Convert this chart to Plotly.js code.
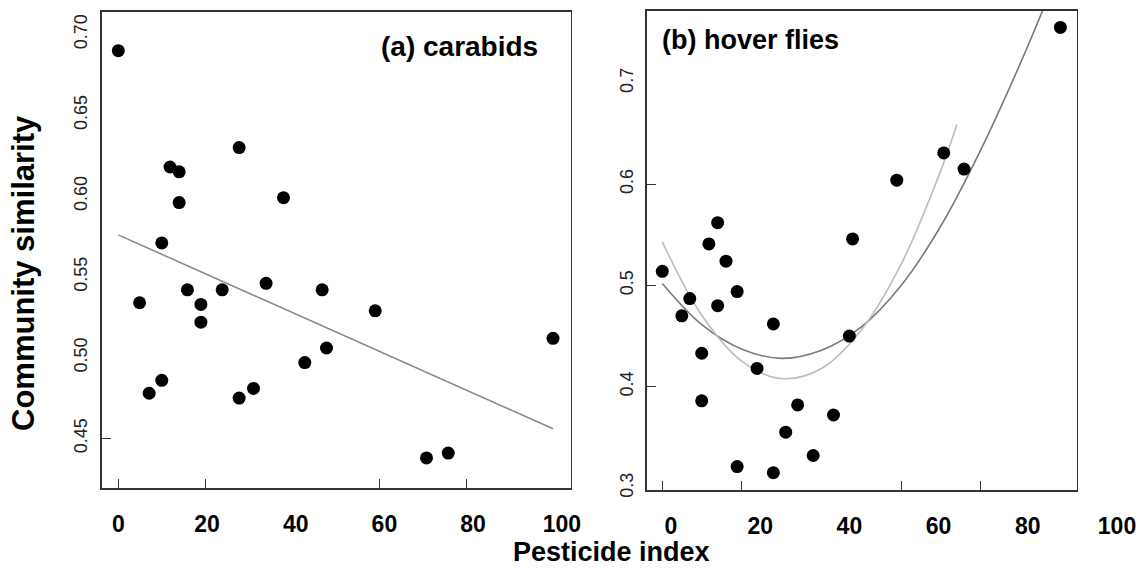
<!DOCTYPE html>
<html>
<head>
<meta charset="utf-8">
<script src="https://cdn.plot.ly/plotly-3.0.1.min.js"></script>
<style>html,body{margin:0;padding:0;background:#fff;}#chart{width:1146px;height:569px;}</style>
</head>
<body>
<div id="chart"></div>
<script>
// ---- data ----
var carabidX = [0, 27.8, 11.9, 14.0, 14.0, 38.0, 10.0, 34.0, 4.9, 15.9, 19.0, 19.0, 23.9, 46.9, 59.1, 100, 47.9, 42.9, 10.0, 7.1, 27.8, 31.1, 70.9, 75.9];
var carabidY = [0.690, 0.630, 0.618, 0.615, 0.596, 0.599, 0.571, 0.546, 0.534, 0.542, 0.533, 0.522, 0.542, 0.542, 0.529, 0.512, 0.506, 0.497, 0.486, 0.478, 0.475, 0.481, 0.438, 0.441];
var carabidFitX = [0, 100];
var carabidFitY = [0.576, 0.456];

var hoverX = [100, 70.7, 75.8, 58.9, 13.9, 11.7, 47.8, 16.0, 0, 18.8, 6.9, 13.9, 4.9, 27.9, 47.0, 9.9, 23.8, 9.9, 34.0, 43.0, 31.0, 37.9, 18.8, 27.9];
var hoverY = [0.755, 0.631, 0.615, 0.604, 0.562, 0.541, 0.546, 0.524, 0.514, 0.494, 0.487, 0.480, 0.470, 0.462, 0.450, 0.433, 0.418, 0.386, 0.382, 0.372, 0.355, 0.332, 0.321, 0.315];
var hoverFitDarkX = [0, 10, 20, 30, 40, 50, 60, 70, 80, 90, 96];
var hoverFitDarkY = [0.502, 0.461, 0.437, 0.428, 0.436, 0.459, 0.500, 0.559, 0.634, 0.720, 0.776];
var hoverFitLightX = [0, 10, 20, 30, 40, 50, 60, 70, 74];
var hoverFitLightY = [0.543, 0.470, 0.425, 0.408, 0.418, 0.456, 0.521, 0.614, 0.659];

var xTickVals = [0, 20, 40, 60, 80, 100];
var xTickText = ['0', '20', '40', '60', '80', '100'];
var xMarkVals = [0, 20, 60, 80];
var leftYTickVals = [0.45, 0.50, 0.55, 0.60, 0.65, 0.70];
var leftYTickText = ['0.45', '0.50', '0.55', '0.60', '0.65', '0.70'];
var leftYMarkVals = [0.45];
var rightYTickVals = [0.3, 0.4, 0.5, 0.6, 0.7];
var rightYTickText = ['0.3', '0.4', '0.5', '0.6', '0.7'];
var rightYMarkVals = [0.4, 0.5, 0.6];

var titleX = 'Pesticide index';
var titleY = 'Community similarity';
var labelA = '(a) carabids';
var labelB = '(b) hover flies';

// ---- styling ----
var FONT = 'Liberation Sans, Arial, Helvetica, sans-serif';
var W = 1146, H = 569;
function px(x){ return x / W; }
function py(y){ return 1 - y / H; }

var leftXR = [-3.82, 104.07], leftYR = [0.4192, 0.7141];
var rightXR = [-3.92, 104.1], rightYR = [0.2979, 0.7715];
var leftDomX = [px(101.7), px(570.7)], leftDomY = [py(488.3), py(11.7)];
var rightDomX = [px(646.7), px(1076.7)], rightDomY = [py(490), py(10.7)];

var mk = {color: '#000', size: 13};
var traces = [
  {x: carabidFitX, y: carabidFitY, xaxis: 'x', yaxis: 'y', mode: 'lines', line: {color: '#8a8a8a', width: 1.6}, hoverinfo: 'skip'},
  {x: carabidX, y: carabidY, xaxis: 'x', yaxis: 'y', mode: 'markers', marker: mk},
  {x: hoverFitDarkX, y: hoverFitDarkY, xaxis: 'x2', yaxis: 'y2', mode: 'lines', line: {color: '#7a7a7a', width: 1.6, shape: 'spline', smoothing: 1}, hoverinfo: 'skip'},
  {x: hoverFitLightX, y: hoverFitLightY, xaxis: 'x2', yaxis: 'y2', mode: 'lines', line: {color: '#bcbcbc', width: 1.6, shape: 'spline', smoothing: 1}, hoverinfo: 'skip'},
  {x: hoverX, y: hoverY, xaxis: 'x2', yaxis: 'y2', mode: 'markers', marker: mk},
  // empty traces that only register the label / tick helper axes
  {x: [], y: [], xaxis: 'x3', yaxis: 'y', mode: 'markers'},
  {x: [], y: [], xaxis: 'x4', yaxis: 'y2', mode: 'markers'},
  {x: [], y: [], xaxis: 'x', yaxis: 'y3', mode: 'markers'},
  {x: [], y: [], xaxis: 'x2', yaxis: 'y4', mode: 'markers'}
];

var boxAxis = {showline: true, mirror: true, linecolor: '#333', linewidth: 1.5, showgrid: false, zeroline: false};

var layout = {
  width: W, height: H,
  margin: {l: 0, r: 0, t: 0, b: 0},
  paper_bgcolor: '#fff', plot_bgcolor: 'rgba(0,0,0,0)',
  showlegend: false,
  font: {family: FONT, color: '#000'},
  xaxis: Object.assign({}, boxAxis, {domain: leftDomX, range: leftXR, anchor: 'y', tickmode: 'array', tickvals: xMarkVals, ticks: 'inside', ticklen: 9, tickcolor: '#333', showticklabels: false}),
  yaxis: Object.assign({}, boxAxis, {domain: leftDomY, range: leftYR, anchor: 'x', tickmode: 'array', tickvals: leftYTickVals, ticktext: leftYTickText, ticks: '', tickangle: -90, ticklabelstandoff: 6, tickfont: {family: FONT, size: 18, color: '#222'}}),
  yaxis3: {overlaying: 'y', anchor: 'x', range: leftYR, tickmode: 'array', tickvals: leftYMarkVals, ticks: 'inside', ticklen: 9, tickcolor: '#333', showticklabels: false, showgrid: false, zeroline: false, showline: false},
  xaxis3: {domain: leftDomX, anchor: 'y', range: [-3.74, 102.0], tickmode: 'array', tickvals: xTickVals, ticktext: xTickText, ticks: '', showline: false, showgrid: false, zeroline: false, ticklabelstandoff: 20, tickfont: {family: FONT, size: 23, color: '#000', weight: 'bold'}},

  xaxis2: Object.assign({}, boxAxis, {domain: rightDomX, range: rightXR, anchor: 'y2', tickmode: 'array', tickvals: xMarkVals, ticks: 'inside', ticklen: 9, tickcolor: '#333', showticklabels: false}),
  yaxis2: Object.assign({}, boxAxis, {domain: rightDomY, range: rightYR, anchor: 'x2', tickmode: 'array', tickvals: rightYTickVals, ticktext: rightYTickText, ticks: '', tickangle: -90, ticklabelstandoff: 5, tickfont: {family: FONT, size: 18, color: '#222'}}),
  yaxis4: {overlaying: 'y2', anchor: 'x2', range: rightYR, tickmode: 'array', tickvals: rightYMarkVals, ticks: 'inside', ticklen: 9, tickcolor: '#333', showticklabels: false, showgrid: false, zeroline: false, showline: false},
  xaxis4: {domain: [px(646.7), px(1140)], anchor: 'y2', range: [-5.45, 105.16], tickmode: 'array', tickvals: xTickVals, ticktext: xTickText, ticks: '', showline: false, showgrid: false, zeroline: false, ticklabelstandoff: 20, tickfont: {family: FONT, size: 23, color: '#000', weight: 'bold'}},

  annotations: [
    {text: labelA, xref: 'paper', yref: 'paper', x: px(459.7), y: py(46.5), xanchor: 'center', yanchor: 'middle', showarrow: false, font: {family: FONT, size: 28, color: '#000', weight: 'bold'}},
    {text: labelB, xref: 'paper', yref: 'paper', x: px(660), y: py(40.5), xanchor: 'left', yanchor: 'middle', showarrow: false, font: {family: FONT, size: 27, color: '#000', weight: 'bold'}},
    {text: titleX, xref: 'paper', yref: 'paper', x: px(611.7), y: py(552), xanchor: 'center', yanchor: 'middle', showarrow: false, font: {family: FONT, size: 27, color: '#000', weight: 'bold'}},
    {text: titleY, xref: 'paper', yref: 'paper', x: px(23), y: py(273), xanchor: 'center', yanchor: 'middle', textangle: -90, showarrow: false, font: {family: FONT, size: 31, color: '#000', weight: 'bold'}}
  ]
};

Plotly.newPlot('chart', traces, layout, {displayModeBar: false, staticPlot: true});
</script>
</body>
</html>
